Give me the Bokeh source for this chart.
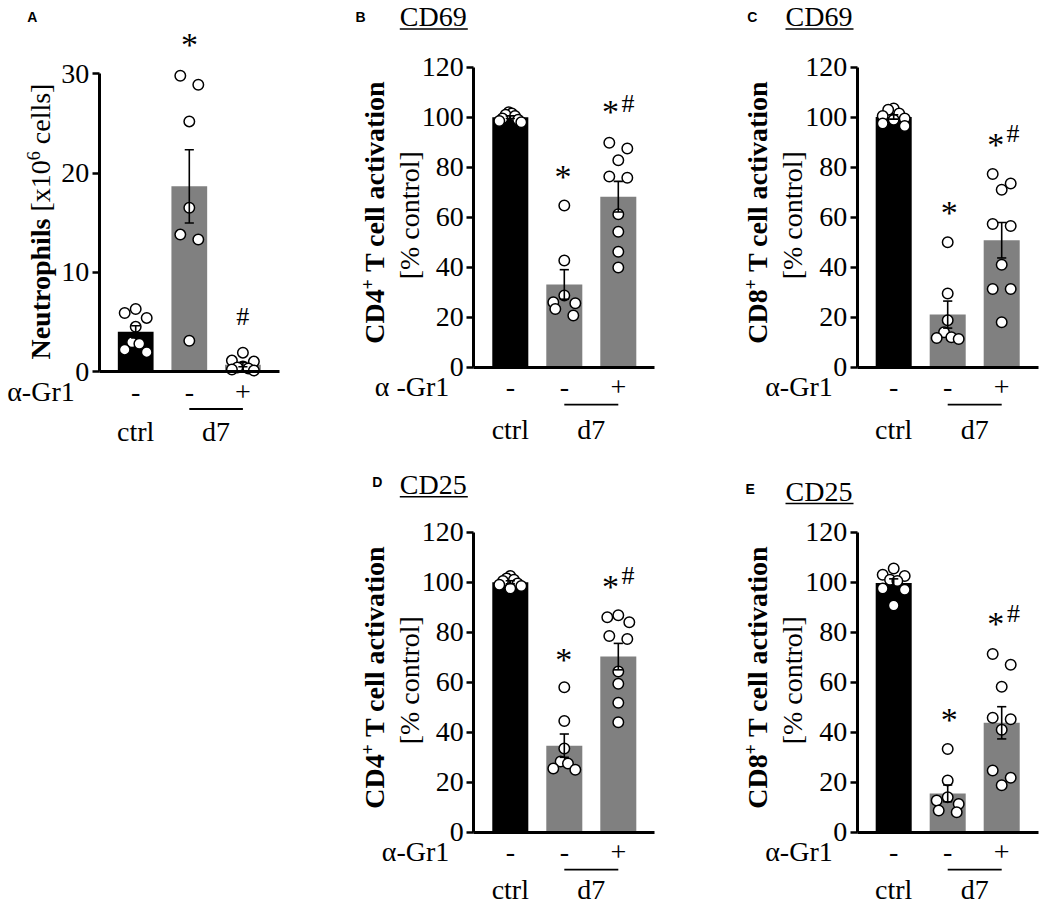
import math
from bokeh.plotting import figure
from bokeh.models import Range1d, LinearAxis, FixedTicker, Label, Spacer, Grid
from bokeh.layouts import row, column
from bokeh.embed import file_html
from bokeh.resources import INLINE

SERIF = "Liberation Serif"
SANS = "Liberation Sans"

# ---------------- data ----------------
group_names = ["ctrl", "d7"]
agr1_ticks = ["-", "-", "+"]

neut_ctrl = [6.3, 5.9, 5.4, 4.5, 2.95, 2.8, 2.2, 1.95]
neut_d7 = [29.8, 28.9, 25.2, 16.5, 13.8, 13.3, 3.1]
neut_d7_agr1 = [1.9, 1.1, 1.0, 0.5, 0.4, 0.3, 0.2, 0.1]

cd4_cd69_ctrl = [102.0, 101.5, 101.0, 100.5, 99.5, 99.0, 98.5, 98.0]
cd4_cd69_d7 = [64.7, 42.7, 28.7, 26.0, 25.6, 23.3, 20.7]
cd4_cd69_d7_agr1 = [89.8, 87.5, 82.8, 76.3, 75.8, 61.2, 54.2, 46.2, 39.9]

cd8_cd69_ctrl = [103.5, 103.0, 101.5, 100.5, 99.5, 99.0, 97.5, 96.5]
cd8_cd69_d7 = [50.0, 29.5, 18.8, 14.0, 12.0, 11.7, 11.3]
cd8_cd69_d7_agr1 = [77.3, 73.5, 71.0, 57.3, 56.5, 41.0, 31.3, 31.3, 18.0]

cd4_cd25_ctrl = [102.5, 101.5, 101.0, 100.5, 99.5, 99.0, 98.5, 97.5]
cd4_cd25_d7 = [58.0, 44.5, 33.5, 28.3, 27.5, 25.5, 25.0]
cd4_cd25_d7_agr1 = [86.8, 86.0, 84.0, 78.5, 77.3, 64.3, 59.4, 51.8, 44.0]

cd8_cd25_ctrl = [105.5, 103.0, 102.5, 101.0, 100.5, 97.5, 97.0, 90.7]
cd8_cd25_d7 = [33.3, 20.7, 14.0, 12.7, 11.3, 8.7, 8.0]
cd8_cd25_d7_agr1 = [71.3, 67.0, 58.2, 45.8, 45.2, 41.0, 24.7, 21.8, 18.8]

neut_ticks = [0, 10, 20, 30]
pct_ticks = [0, 20, 40, 60, 80, 100, 120]

bar_colors = ["#000000", "#808080", "#808080"]
R = math.pi / 2
MID = 0.3375  # distance baseline -> 'middle' in em


class Geo:
    """Pixel geometry of one panel (page coordinates)."""
    def __init__(self, cx, cy, w, h, ax, ay, sx, sy):
        self.cx, self.cy, self.w, self.h = cx, cy, w, h
        self.ax, self.ay, self.sx, self.sy = ax, ay, sx, sy
        self.x0 = 1 - 36.5 / sx

    def X(self, px):
        return self.x0 + (px - self.ax) / self.sx

    def Y(self, py):
        return (self.ay - py) / self.sy


def swarm(vals, sy, row_px=11.0, max_width=22.0, max_step=18.0):
    order = sorted(range(len(vals)), key=lambda i: -vals[i])
    rows = []
    for i in order:
        if rows and (vals[rows[-1][0]] - vals[i]) * sy < row_px:
            rows[-1].append(i)
        else:
            rows.append([i])
    offs = [0.0] * len(vals)
    for r in rows:
        n = len(r)
        if n == 1:
            continue
        step = min(max_step, max_width / (n - 1))
        slots = sorted([(k - (n - 1) / 2) * step for k in range(n)], key=lambda o: (abs(o), o))
        for i, o in zip(r, slots):
            offs[i] = o
    return offs


def mean_sem(v):
    n = len(v)
    m = sum(v) / n
    sd = math.sqrt(sum((x - m) ** 2 for x in v) / (n - 1))
    return m, sd / math.sqrt(n)


def lab(p, g, px, py, text, size=28, style="normal", font=SERIF, align="left", angle=0.0,
        xdata=None):
    """(px, py) is the text baseline point in page pixels."""
    if angle == 0.0:
        ax_, ay_ = px, py - MID * size
    else:
        ax_, ay_ = px - MID * size, py
    p.add_layout(Label(x=g.X(ax_) if xdata is None else xdata, y=g.Y(ay_), text=text,
                       text_font=font, text_font_size=f"{size}px", text_font_style=style,
                       text_align=align, text_baseline="middle", angle=angle,
                       text_color="black"))


def make_panel(g, groups, ymax, yticks, letter, letter_pos, header, header_pos,
               sig, agr_text, group_base):
    p = figure(width=g.w, height=g.h,
               x_range=Range1d(g.X(g.cx), g.X(g.cx + g.w)),
               y_range=Range1d(g.Y(g.cy + g.h), g.Y(g.cy)),
               output_backend="svg", toolbar_location=None, title=None,
               x_axis_location=None, y_axis_location=None, min_border=0)
    p.outline_line_color = None
    p.background_fill_color = "white"
    p.border_fill_color = "white"
    for r in list(p.center):
        if isinstance(r, Grid):
            r.visible = False
            r.grid_line_color = None

    xs = [1, 2, 3]
    stats = [mean_sem(v) for v in groups]
    means = [s[0] for s in stats]
    p.vbar(x=xs, top=means, bottom=0, width=0.667, fill_color=bar_colors, line_color=None)

    for x, vals in zip(xs, groups):
        offs = swarm(vals, g.sy)
        p.scatter([x + o / g.sx for o in offs], vals, size=10.5, marker="circle",
                  fill_color="white", line_color="black", line_width=1.5)

    lo = [m - s for m, s in stats]
    hi = [m + s for m, s in stats]
    cap = 0.085
    p.segment(x0=xs, y0=lo, x1=xs, y1=hi, line_color="black", line_width=1.6)
    p.segment(x0=[x - cap for x in xs], y0=hi, x1=[x + cap for x in xs], y1=hi,
              line_color="black", line_width=1.6)
    p.segment(x0=[x - cap for x in xs], y0=lo, x1=[x + cap for x in xs], y1=lo,
              line_color="black", line_width=1.6)

    yax = LinearAxis(fixed_location=g.x0, bounds=(0, ymax),
                     ticker=FixedTicker(ticks=yticks, minor_ticks=[]))
    yax.axis_line_width = 3
    yax.axis_line_color = "black"
    yax.major_tick_line_width = 2.5
    yax.major_tick_out = 7
    yax.major_tick_in = 0
    yax.minor_tick_line_color = None
    yax.major_label_text_font = SERIF
    yax.major_label_text_font_size = "28px"
    yax.major_label_text_color = "black"
    yax.major_label_standoff = 3
    p.add_layout(yax, "left")

    xax = LinearAxis(fixed_location=0, bounds=(g.x0, 4 - g.x0),
                     ticker=FixedTicker(ticks=xs, minor_ticks=[]),
                     major_label_overrides={1: agr1_ticks[0], 2: agr1_ticks[1], 3: agr1_ticks[2]})
    xax.axis_line_width = 3
    xax.axis_line_color = "black"
    xax.major_tick_line_color = None
    xax.minor_tick_line_color = None
    xax.major_label_text_font = SERIF
    xax.major_label_text_font_size = "28px"
    xax.major_label_text_color = "black"
    xax.major_label_standoff = 5
    p.add_layout(xax, "below")

    # panel letter and header
    lab(p, g, letter_pos[0], letter_pos[1], letter, size=14, style="bold", font=SANS)
    if header:
        lab(p, g, header_pos[0], header_pos[1], header)
        p.segment(x0=[g.X(header_pos[0])], y0=[g.Y(header_pos[1] + 3)],
                  x1=[g.X(header_pos[0] + 68)], y1=[g.Y(header_pos[1] + 3)],
                  line_color="black", line_width=1.5)

    # significance markers (given as glyph centre / bottom)
    for kind, cx, cy in sig:
        if kind == "*":
            lab(p, g, cx, cy + 0.466 * 34, "*", size=34, align="center")
        else:
            lab(p, g, cx, cy, "#", size=26, align="center")

    # alpha-Gr1 row and group labels
    lab(p, g, g.ax - 24.5, g.ay + 29, agr_text, align="right")
    p.segment(x0=[2], y0=[g.Y(g.ay + 37.5)], x1=[3], y1=[g.Y(g.ay + 37.5)],
              line_color="black", line_width=1.8)
    lab(p, g, 0, group_base, group_names[0], align="center", xdata=1)
    lab(p, g, 0, group_base, group_names[1], align="center", xdata=2.5)
    return p


def ylabel_T(p, g, cd):
    bx = g.ax - 90
    s = g.ay - 23.4
    lab(p, g, bx, s, cd, style="bold", angle=R)
    lab(p, g, bx - 10.5, s - 54.4, "+", size=18, style="bold", angle=R)
    lab(p, g, bx, s - 54.4 - 10.3 - 7, "T cell activation", style="bold", angle=R)
    lab(p, g, g.ax - 55, g.ay - 152, "[% control]", align="center", angle=R)


def ylabel_N(p, g):
    bx = g.ax - 49.4
    J = 218
    lab(p, g, bx, J, "Neutrophils", style="bold", align="right", angle=R)
    lab(p, g, bx, J - 7, "[x10", angle=R)
    lab(p, g, bx - 10, J - 7 - 51.3, "6", size=18, angle=R)
    lab(p, g, bx, J - 7 - 51.3 - 9 - 7, "cells]", angle=R)


gA = Geo(0, 0, 340, 448, 98.7, 371.0, 53.6, 297.7 / 30)
gB = Geo(340, 0, 350, 448, 473.3, 366.7, 54.0, 2.5)
gC = Geo(690, 0, 350, 448, 856.7, 366.7, 54.0, 2.5)
gD = Geo(340, 448, 350, 457, 473.3, 831.7, 54.0, 2.5)
gE = Geo(690, 448, 350, 457, 856.7, 831.7, 54.0, 2.5)

pA = make_panel(gA, [neut_ctrl, neut_d7, neut_d7_agr1], 30, neut_ticks, "A", (26.7, 21.7),
                None, None, [("*", 189, 40), ("#", 242.3, 325)], "α-Gr1", 440)
ylabel_N(pA, gA)

pB = make_panel(gB, [cd4_cd69_ctrl, cd4_cd69_d7, cd4_cd69_d7_agr1], 120, pct_ticks, "B",
                (355, 21.7), "CD69", (399.3, 25.5),
                [("*", 562.5, 171.7), ("*", 610, 106.7), ("#", 627.5, 111.7)],
                "α -Gr1", 438)
ylabel_T(pB, gB, "CD4")

pC = make_panel(gC, [cd8_cd69_ctrl, cd8_cd69_d7, cd8_cd69_d7_agr1], 120, pct_ticks, "C",
                (746.7, 21.7), "CD69", (785, 25.5),
                [("*", 948.7, 207.5), ("*", 995.3, 139.2), ("#", 1012.5, 141.7)],
                "α-Gr1", 438)
ylabel_T(pC, gC, "CD8")

pD = make_panel(gD, [cd4_cd25_ctrl, cd4_cd25_d7, cd4_cd25_d7_agr1], 120, pct_ticks, "D",
                (371.7, 486.7), "CD25", (399.3, 493.3),
                [("*", 563.3, 655), ("*", 610, 581.7), ("#", 627.5, 583.3)],
                "α-Gr1", 898)
ylabel_T(pD, gD, "CD4")

pE = make_panel(gE, [cd8_cd25_ctrl, cd8_cd25_d7, cd8_cd25_d7_agr1], 120, pct_ticks, "E",
                (745, 493.3), "CD25", (785, 500),
                [("*", 948.7, 715), ("*", 995.3, 618.3), ("#", 1013, 621.7)],
                "α-Gr1", 898)
ylabel_T(pE, gE, "CD8")

layout = column(row(pA, pB, pC), row(Spacer(width=340, height=457), pD, pE))

open("out.html", "w").write(file_html(layout, INLINE))
